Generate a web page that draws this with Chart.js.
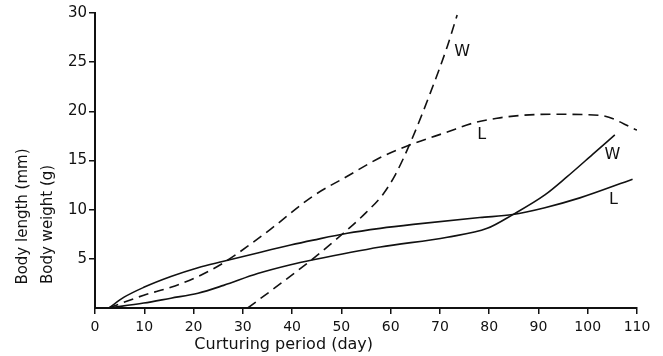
<!DOCTYPE html>
<html>
<head>
<meta charset="utf-8">
<title>Body length and weight</title>
<script src="https://cdn.jsdelivr.net/npm/chart.js@4.4.1/dist/chart.umd.min.js"></script>
<style>
    html, body { margin: 0; padding: 0; background: #fff; }
    #wrap { width: 663px; height: 356px; }
</style>
</head>
<body>
<div id="wrap"><canvas id="growthChart" width="663" height="356"></canvas></div>
<script>
// ========================================
// Data
// ========================================

// dashed L
const lengthDashDays = [2.8, 9.9, 15.4, 20.9, 26.1, 31.6, 35.6, 44.3, 51.2, 57.9, 64, 71.5, 76.7, 81.6, 86.8, 92.9, 102.4, 110];
const lengthDashVals = [0, 1.3, 2.1, 3.2, 4.6, 6.5, 8.0, 11.4, 13.4, 15.3, 16.6, 17.9, 18.8, 19.3, 19.6, 19.7, 19.6, 18.1];

// dashed W
const weightDashDays = [31, 37.7, 43.7, 50.4, 55, 58.5, 61, 64, 68, 71.5, 73.5];
const weightDashVals = [0, 2.5, 4.8, 7.6, 9.7, 11.6, 13.6, 16.8, 21.8, 26.6, 29.8];

// solid L
const lengthSolidDays = [2.8, 5.9, 9.9, 15.4, 20.9, 26.1, 33, 39.7, 44.3, 51.2, 57.9, 64.6, 78.1, 84.8, 91.3, 98.4, 109.1];
const lengthSolidVals = [0, 1.1, 2.1, 3.2, 4.1, 4.75, 5.6, 6.4, 6.9, 7.6, 8.1, 8.5, 9.2, 9.5, 10.2, 11.2, 13.1];

// solid W
const weightSolidDays = [2.8, 9.9, 15.4, 20.9, 26.1, 33, 39.7, 44.3, 57.9, 71.5, 79.6, 84.8, 91.3, 95.7, 101.4, 105.5];
const weightSolidVals = [0, 0.5, 1.0, 1.5, 2.3, 3.5, 4.4, 4.9, 6.2, 7.2, 8.1, 9.5, 11.5, 13.3, 15.8, 17.6];

// curve labels
const curveLabels = ['W', 'L', 'W', 'L'];
const curveLabelDays = [74.5, 78.5, 105, 105.2];
const curveLabelVals = [26, 17.6, 15.6, 11];

// axes
const xTicks = [0, 10, 20, 30, 40, 50, 60, 70, 80, 90, 100, 110];
const yTicks = [5, 10, 15, 20, 25, 30];
const yTitleLines = ['Body length (mm)', 'Body weight (g)'];
const xTitle = 'Curturing period (day)';

// ========================================
// Helpers
// ========================================

const INK = '#111';
const FONT = '"DejaVu Sans", sans-serif';

function toPoints(days, vals) {
    return days.map((d, i) => ({ x: d, y: vals[i] }));
}

function makeSet(days, vals, dashed) {
    return {
        data: toPoints(days, vals),
        borderColor: INK,
        borderWidth: 1.6,
        borderDash: dashed ? [10, 6] : [],
        pointRadius: 0,
        fill: false,
        cubicInterpolationMode: 'monotone'
    };
}

// axis titles and W / L letters
const textPlugin = {
    id: 'textPlugin',
    afterDraw(chart) {
        const ctx = chart.ctx;
        const xs = chart.scales.x;
        const ys = chart.scales.y;
        ctx.save();
        ctx.fillStyle = INK;

        // letters next to the curves
        ctx.font = '16px ' + FONT;
        ctx.textAlign = 'center';
        ctx.textBaseline = 'middle';
        curveLabels.forEach((t, i) => {
            ctx.fillText(t, xs.getPixelForValue(curveLabelDays[i]), ys.getPixelForValue(curveLabelVals[i]));
        });

        // x title
        ctx.font = '16px ' + FONT;
        ctx.fillText(xTitle, xs.getPixelForValue(38.3), 345);

        // y title, two rotated lines
        ctx.font = '15px ' + FONT;
        ctx.textBaseline = 'alphabetic';
        const baseX = [27, 52];
        const midY = [ys.getPixelForValue(9.3), ys.getPixelForValue(8.5)];
        yTitleLines.forEach((t, i) => {
            ctx.save();
            ctx.translate(baseX[i], midY[i]);
            ctx.rotate(-Math.PI / 2);
            ctx.fillText(t, 0, 0);
            ctx.restore();
        });
        ctx.restore();
    }
};

// ========================================
// Chart
// ========================================

const ctx = document.getElementById('growthChart').getContext('2d');
const growthChart = new Chart(ctx, {
    type: 'line',
    data: {
        datasets: [
            makeSet(lengthDashDays, lengthDashVals, true),
            makeSet(weightDashDays, weightDashVals, true),
            makeSet(lengthSolidDays, lengthSolidVals, false),
            makeSet(weightSolidDays, weightSolidVals, false)
        ]
    },
    options: {
        responsive: false,
        animation: false,
        layout: { padding: { top: 13, right: 26, left: 0, bottom: 0 } },
        plugins: {
            legend: { display: false },
            tooltip: { enabled: false }
        },
        scales: {
            x: {
                type: 'linear',
                min: 0,
                max: 110,
                afterBuildTicks: (scale) => { scale.ticks = xTicks.map(v => ({ value: v })); },
                afterFit: (scale) => { scale.height = 48; },
                ticks: { color: INK, font: { family: FONT, size: 14 }, padding: 5, maxRotation: 0, autoSkip: false },
                grid: { drawOnChartArea: false, drawTicks: true, tickLength: 6, color: INK, lineWidth: 1.5 },
                border: { display: true, color: INK, width: 2 }
            },
            y: {
                min: 0,
                max: 30,
                afterBuildTicks: (scale) => { scale.ticks = yTicks.map(v => ({ value: v })); },
                afterFit: (scale) => { scale.width = 95; },
                ticks: { color: INK, font: { family: FONT, size: 15 }, padding: 2 },
                grid: { drawOnChartArea: false, drawTicks: true, tickLength: 6, color: INK, lineWidth: 1.5 },
                border: { display: true, color: INK, width: 2 }
            }
        }
    },
    plugins: [textPlugin]
});
</script>
</body>
</html>
